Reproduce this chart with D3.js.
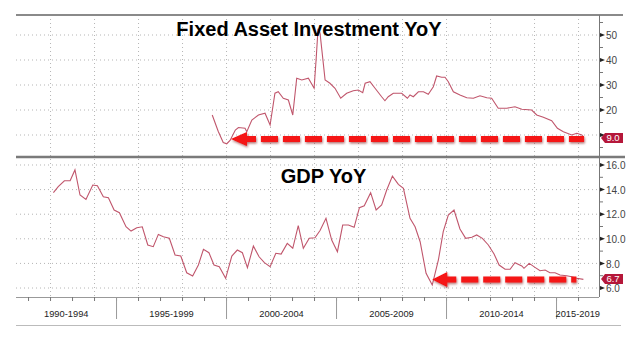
<!DOCTYPE html>
<html>
<head>
<meta charset="utf-8">
<script src="https://cdn.jsdelivr.net/npm/d3@7/dist/d3.min.js"></script>
<style>
html,body{margin:0;padding:0;background:#fff;}
svg{display:block;}
</style>
</head>
<body>
<svg id="chart" width="639" height="339"></svg>
<script>
// ---------- DATA ----------
const faiSeries = [
  [1999.35,18.0],[1999.62,11.5],[1999.85,7.0],[2000.01,6.5],[2000.16,7.8],[2000.40,12.0],[2000.54,13.0],[2000.84,12.7],[2000.92,11.3],
  [2001.15,16.0],[2001.45,18.0],[2001.75,18.7],[2001.98,14.0],[2002.20,26.7],[2002.35,27.3],[2002.58,24.7],[2002.81,24.0],
  [2003.01,18.0],[2003.19,32.7],[2003.42,32.0],[2003.72,32.7],[2003.98,28.7],[2004.07,40.0],[2004.16,52.5],[2004.25,50.7],
  [2004.48,32.0],[2004.70,30.7],[2004.93,28.7],[2005.19,24.7],[2005.46,26.7],[2005.76,27.7],[2005.99,28.0],[2006.19,26.9],
  [2006.30,30.7],[2006.52,31.3],[2006.75,28.7],[2007.05,25.3],[2007.20,23.7],[2007.35,25.3],[2007.58,26.7],[2007.96,26.7],
  [2008.22,24.7],[2008.34,26.0],[2008.49,25.3],[2008.72,27.3],[2008.95,27.3],[2009.17,26.3],[2009.40,29.3],[2009.55,33.6],
  [2009.78,33.1],[2009.93,33.1],[2010.08,31.3],[2010.31,27.3],[2010.61,26.0],[2010.92,24.9],[2011.22,24.7],[2011.52,25.7],
  [2011.83,24.9],[2012.05,24.7],[2012.35,20.7],[2012.74,20.7],[2013.11,21.3],[2013.42,20.3],[2013.87,20.0],[2014.10,18.0],
  [2014.40,17.1],[2014.78,15.7],[2015.04,12.7],[2015.31,11.3],[2015.69,10.0],[2015.92,10.7],[2016.15,10.0],[2016.25,9.0]
];
const gdpSeries = [
  [1992.13,13.75],[1992.35,14.24],[1992.63,14.72],[1992.89,14.72],[1993.11,15.6],[1993.34,13.56],[1993.61,13.2],[1993.92,14.37],
  [1994.13,14.32],[1994.40,13.42],[1994.63,13.34],[1994.89,12.34],[1995.13,12.12],[1995.43,10.98],[1995.66,10.63],[1995.92,10.9],
  [1996.17,10.98],[1996.42,9.5],[1996.67,9.36],[1996.90,10.36],[1997.13,10.17],[1997.40,10.04],[1997.66,8.68],[1997.92,8.6],
  [1998.19,7.24],[1998.46,6.98],[1998.72,7.87],[1998.95,9.15],[1999.20,8.87],[1999.43,7.87],[1999.67,7.73],[1999.96,6.79],
  [2000.24,8.6],[2000.49,9.09],[2000.72,8.87],[2000.95,7.65],[2001.22,9.41],[2001.48,8.54],[2001.72,8.06],[2001.98,7.73],
  [2002.24,8.82],[2002.48,8.76],[2002.76,9.63],[2003.01,9.23],[2003.26,11.07],[2003.49,9.23],[2003.76,10.04],[2004.02,10.09],
  [2004.25,10.68],[2004.52,11.67],[2004.78,9.9],[2005.04,8.95],[2005.28,11.12],[2005.54,11.12],[2005.80,10.93],[2006.04,12.53],
  [2006.26,12.69],[2006.55,13.75],[2006.80,12.34],[2007.05,12.75],[2007.28,13.97],[2007.54,15.1],[2007.81,14.43],[2008.04,14.1],
  [2008.34,11.67],[2008.57,10.98],[2008.80,9.76],[2009.07,7.2],[2009.35,6.24],[2009.63,8.28],[2009.85,10.58],[2010.08,11.93],
  [2010.34,12.34],[2010.61,10.8],[2010.87,10.04],[2011.15,10.12],[2011.37,10.31],[2011.63,10.04],[2011.90,9.5],[2012.16,8.76],
  [2012.39,7.87],[2012.66,7.52],[2012.89,7.52],[2013.11,8.06],[2013.42,7.79],[2013.52,7.6],[2013.76,8.0],[2014.02,7.68],
  [2014.25,7.41],[2014.48,7.46],[2014.70,7.24],[2014.93,7.24],[2015.16,7.06],[2015.46,7.0],[2015.69,6.92],[2015.92,6.79],[2016.22,6.7]
];
const topTicks = [10, 20, 30, 40, 50];
const topMinor = [5, 15, 25, 35, 45, 55];
const gdpTicks = [6, 8, 10, 12, 14, 16];
const gdpMinor = [7, 9, 11, 13, 15];
const periodLabels = ["1990-1994", "1995-1999", "2000-2004", "2005-2009", "2010-2014", "2015-2019"];
const periodStarts = [1990, 1995, 2000, 2005, 2010, 2015];
const titles = ["Fixed Asset Investment YoY", "GDP YoY"];
const lastFai = "9.0", lastGdp = "6.7";
// annotation arrows: [start year (tip), end year, value]
const faiArrow = [2000.2, 2016.25, 8.4];
const gdpArrow = [2009.35, 2015.9, 6.7];

// ---------- LAYOUT ----------
const L = 16, R = 599;
const topY0 = 15, midY = 157, botY = 297;
const svg = d3.select("#chart");

const x = d3.scaleLinear().domain([1990.43, 2016.93]).range([L, R]);
const yTop = d3.scaleLinear().domain([1.2, 58]).range([midY, topY0]);
const yBot = d3.scaleLinear().domain([5.27, 16.65]).range([botY, midY]);

const defs = svg.append("defs");
const f = defs.append("filter").attr("id", "sh").attr("x", "-10%").attr("y", "-50%").attr("width", "120%").attr("height", "200%");
f.append("feDropShadow").attr("dx", 0.8).attr("dy", 1.5).attr("stdDeviation", 0.8).attr("flood-color", "#700").attr("flood-opacity", 0.55);

const grid = svg.append("g");
d3.range(1992, 2017, 2).forEach(yr => {
  grid.append("line").attr("x1", x(yr)).attr("x2", x(yr)).attr("y1", topY0).attr("y2", botY)
    .attr("stroke", "#b5b5b5").attr("stroke-width", 1).attr("stroke-dasharray", "1,3");
});
topTicks.forEach(v => {
  grid.append("line").attr("x1", L).attr("x2", R).attr("y1", yTop(v)).attr("y2", yTop(v))
    .attr("stroke", "#b5b5b5").attr("stroke-dasharray", "1,3");
});
gdpTicks.forEach(v => {
  grid.append("line").attr("x1", L).attr("x2", R).attr("y1", yBot(v)).attr("y2", yBot(v))
    .attr("stroke", "#b5b5b5").attr("stroke-dasharray", "1,3");
});

// frame lines
svg.append("line").attr("x1", L).attr("x2", 623).attr("y1", topY0).attr("y2", topY0).attr("stroke", "#8a8a8a").attr("stroke-width", 2.2);
svg.append("line").attr("x1", L).attr("x2", 625).attr("y1", midY).attr("y2", midY).attr("stroke", "#7a7a7a").attr("stroke-width", 2.6);
svg.append("line").attr("x1", R + 0.5).attr("x2", R + 0.5).attr("y1", topY0).attr("y2", botY).attr("stroke", "#777").attr("stroke-width", 1);
svg.append("line").attr("x1", L).attr("x2", R).attr("y1", botY + 0.5).attr("y2", botY + 0.5).attr("stroke", "#999").attr("stroke-width", 1);

// right axes (labels hidden behind the last-value badge are not drawn, as in the reference)
function rightAxis(scale, major, minor, fmt, badgeY, dy) {
  const g = svg.append("g");
  major.forEach(v => {
    const yy = scale(v);
    g.append("path").attr("d", `M${R + 1},${yy - 2}L${R + 6},${yy}L${R + 1},${yy + 2}Z`).attr("fill", "#222");
    if (Math.abs(yy - badgeY) < 5) return;
    g.append("text").attr("x", R + 7).attr("y", yy + dy).text(fmt(v))
      .attr("font-family", "Liberation Sans, Arial, sans-serif").attr("font-size", 10).attr("fill", "#444");
  });
  minor.forEach(v => {
    const yy = scale(v);
    g.append("line").attr("x1", R + 1).attr("x2", R + 4).attr("y1", yy).attr("y2", yy).attr("stroke", "#777");
  });
}
const faiBadgeY = yTop(+lastFai) + 0.5;
const gdpBadgeY = yBot(+lastGdp) - 0.5;
rightAxis(yTop, topTicks, topMinor, d3.format("d"), faiBadgeY, 3.6);
rightAxis(yBot, gdpTicks, gdpMinor, d3.format(".1f"), gdpBadgeY, 4.2);

// series lines
const lineTop = d3.line().x(d => x(d[0])).y(d => yTop(d[1]));
const lineBot = d3.line().x(d => x(d[0])).y(d => yBot(d[1]));
svg.append("path").datum(faiSeries).attr("d", lineTop).attr("fill", "none").attr("stroke", "#c0566c").attr("stroke-width", 1.1);
svg.append("path").datum(gdpSeries).attr("d", lineBot).attr("fill", "none").attr("stroke", "#c0566c").attr("stroke-width", 1.1);

// last-value badges
function badge(yy, label) {
  svg.append("path").attr("d", `M${R + 2},${yy}L${R + 6},${yy - 5}L${623},${yy - 5}L${623},${yy + 5}L${R + 6},${yy + 5}Z`).attr("fill", "#b5173a");
  svg.append("text").attr("x", 613).attr("y", yy + 3.4).attr("text-anchor", "middle").text(label)
    .attr("font-family", "Liberation Sans, Arial, sans-serif").attr("font-size", 9.5).attr("fill", "#fff");
}
badge(faiBadgeY, lastFai);
badge(gdpBadgeY, lastGdp);

// bottom x axis
const xa = svg.append("g");
d3.range(1991, 2017).forEach(yr => {
  xa.append("line").attr("x1", x(yr)).attr("x2", x(yr)).attr("y1", botY).attr("y2", botY + 4).attr("stroke", "#777");
});
periodStarts.forEach((s, i) => {
  if (i > 0) xa.append("line").attr("x1", x(s)).attr("x2", x(s)).attr("y1", botY).attr("y2", 319).attr("stroke", "#999");
  const a = Math.max(L, x(s)), b = Math.min(R, x(s + 5));
  xa.append("text").attr("x", (a + b) / 2).attr("y", 317).attr("text-anchor", "middle").text(periodLabels[i])
    .attr("font-family", "Liberation Sans, Arial, sans-serif").attr("font-size", 9.3).attr("fill", "#222");
});
xa.append("line").attr("x1", L).attr("x2", 621).attr("y1", 325.5).attr("y2", 325.5).attr("stroke", "#bbb");

// titles
svg.append("text").attr("x", 309).attr("y", 36).attr("text-anchor", "middle").text(titles[0])
  .attr("font-family", "Liberation Sans, Arial, sans-serif").attr("font-weight", "bold").attr("font-size", 20).attr("fill", "#000");
svg.append("text").attr("x", 323.5).attr("y", 183).attr("text-anchor", "middle").text(titles[1])
  .attr("font-family", "Liberation Sans, Arial, sans-serif").attr("font-weight", "bold").attr("font-size", 20).attr("fill", "#000");

// red dashed arrows
function arrow(spec, yScale, headLen, half) {
  const tipX = x(spec[0]), endX = x(spec[1]), yy = yScale(spec[2]);
  const g = svg.append("g").attr("filter", "url(#sh)");
  g.append("path").attr("d", `M${tipX},${yy}L${tipX + headLen},${yy - half}L${tipX + headLen},${yy - 3}L${tipX + headLen + 9},${yy - 3}L${tipX + headLen + 9},${yy + 3}L${tipX + headLen},${yy + 3}L${tipX + headLen},${yy + half}Z`)
    .attr("fill", "#f51212");
  g.append("line").attr("x1", tipX + headLen + 14).attr("x2", endX).attr("y1", yy).attr("y2", yy)
    .attr("stroke", "#f51212").attr("stroke-width", 6).attr("stroke-dasharray", "17,5");
}
arrow(faiArrow, yTop, 16, 7);
arrow(gdpArrow, yBot, 15, 7.5);
</script>
</body>
</html>
